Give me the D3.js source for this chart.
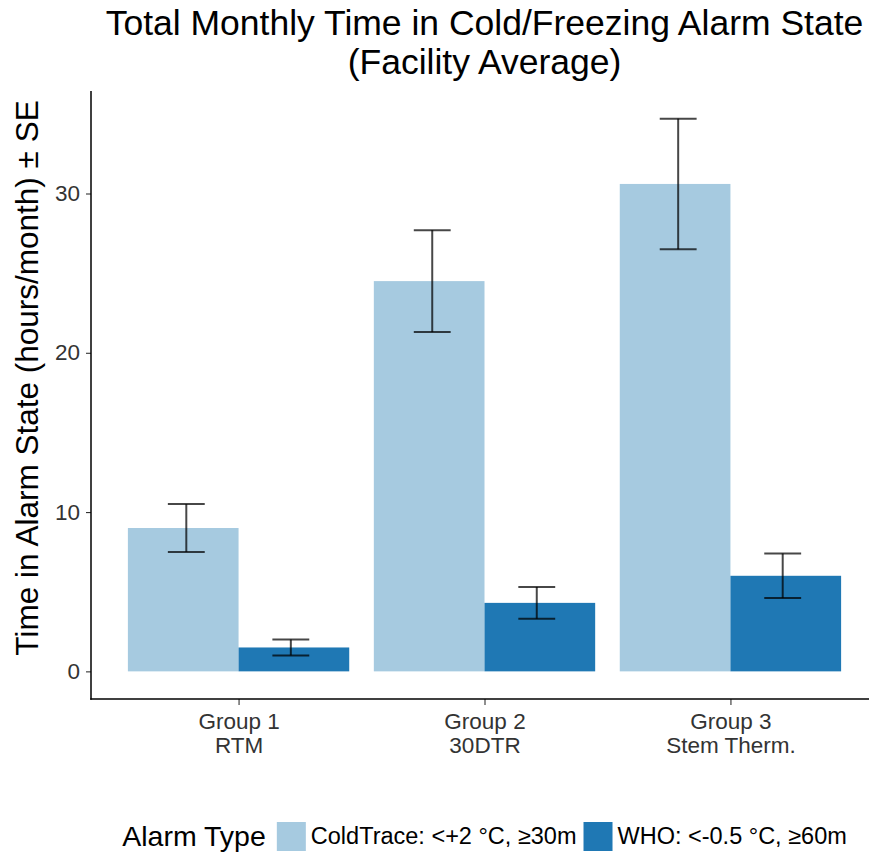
<!DOCTYPE html>
<html>
<head>
<meta charset="utf-8">
<script src="https://cdn.jsdelivr.net/npm/d3@7"></script>
<style>
    body { margin: 0; background: white; }
    svg { display: block; font-family: "Liberation Sans", Helvetica, Arial, sans-serif; }
</style>
</head>
<body>
<svg id="chart" width="869" height="856"></svg>
<script>
// categories
const groupNames = ["Group 1", "Group 2", "Group 3"];
const groupSubs = ["RTM", "30DTR", "Stem Therm."];
const alarmTypes = ["ColdTrace: <+2 °C, ≥30m", "WHO: <-0.5 °C, ≥60m"];
// monthly hours in alarm state and standard errors
const coldMean = [9.0, 24.5, 30.6];
const coldSE = [1.5, 3.2, 4.1];
const whoMean = [1.5, 4.3, 6.0];
const whoSE = [0.5, 1.0, 1.4];
const yTicks = [0, 10, 20, 30];

const colors = ["#a6cae0", "#1f78b4"];

let svg = d3.select("#chart");

// long format rows
let rows = [];
groupNames.forEach(function (g, i) {
    rows.push({ group: g, type: alarmTypes[0], mean: coldMean[i], se: coldSE[i] });
    rows.push({ group: g, type: alarmTypes[1], mean: whoMean[i], se: whoSE[i] });
});

let panelLeft = 91, panelRight = 878, panelTop = 91, panelBottom = 699;

let x = d3.scalePoint()
    .domain(groupNames)
    .range([panelLeft, panelRight])
    .padding(0.6);

let step = x.step();

// bars dodge at 0.9, error bars at 0.85
let xBar = d3.scaleBand()
    .domain(alarmTypes)
    .range([-0.45 * step, 0.45 * step]);

let xErr = d3.scaleBand()
    .domain(alarmTypes)
    .range([-0.425 * step, 0.425 * step]);

let maxHi = d3.max(rows, d => d.mean + d.se);
let pad = maxHi * 0.05;
let y = d3.scaleLinear()
    .domain([-pad, maxHi + pad])
    .range([panelBottom, panelTop]);

let color = d3.scaleOrdinal().domain(alarmTypes).range(colors);

// bars
svg.append("g")
    .selectAll("rect")
    .data(rows)
    .join("rect")
    .attr("x", d => x(d.group) + xBar(d.type))
    .attr("width", xBar.bandwidth())
    .attr("y", d => y(d.mean))
    .attr("height", d => y(0) - y(d.mean))
    .attr("fill", d => color(d.type));

// error bars
let capW = 0.15 * step;
let err = svg.append("g")
    .attr("stroke", "#000")
    .attr("stroke-opacity", 0.72)
    .attr("stroke-width", 2)
    .selectAll("g")
    .data(rows)
    .join("g")
    .attr("transform", d => `translate(${x(d.group) + xErr(d.type) + xErr.bandwidth() / 2},0)`);

err.append("line")
    .attr("y1", d => y(d.mean - d.se))
    .attr("y2", d => y(d.mean + d.se));
err.append("line")
    .attr("x1", -capW / 2).attr("x2", capW / 2)
    .attr("y1", d => y(d.mean + d.se)).attr("y2", d => y(d.mean + d.se));
err.append("line")
    .attr("x1", -capW / 2).attr("x2", capW / 2)
    .attr("y1", d => y(d.mean - d.se)).attr("y2", d => y(d.mean - d.se));

// y axis
let yAxis = svg.append("g")
    .attr("transform", `translate(${panelLeft},0)`)
    .call(d3.axisLeft(y).tickValues(yTicks).tickSize(5).tickPadding(6));
yAxis.select(".domain").remove();
yAxis.selectAll(".tick line").attr("stroke", "#333").attr("stroke-width", 1.1);
yAxis.selectAll(".tick text")
    .attr("fill", "#333")
    .attr("font-size", "22.5px");
yAxis.attr("font-family", null).attr("font-size", null);

// x axis
let xAxis = svg.append("g")
    .attr("transform", `translate(0,${panelBottom})`)
    .call(d3.axisBottom(x).tickSize(6).tickFormat(""));
xAxis.attr("font-family", null).attr("font-size", null);
xAxis.select(".domain").remove();
xAxis.selectAll(".tick line").attr("stroke", "#333").attr("stroke-width", 1.1);
xAxis.selectAll(".tick text").remove();
xAxis.selectAll(".tick")
    .append("text")
    .attr("fill", "#333")
    .attr("font-size", "22.5px")
    .attr("text-anchor", "middle")
    .each(function (d, i) {
        let t = d3.select(this);
        t.append("tspan").attr("x", 0).attr("y", 30).text(groupNames[i]);
        t.append("tspan").attr("x", 0).attr("y", 54).text(groupSubs[i]);
    });

// axis lines
svg.append("line")
    .attr("x1", panelLeft).attr("x2", panelLeft)
    .attr("y1", panelTop).attr("y2", panelBottom + 0.75)
    .attr("stroke", "#000").attr("stroke-width", 1.5);
svg.append("line")
    .attr("x1", panelLeft - 0.75).attr("x2", panelRight)
    .attr("y1", panelBottom).attr("y2", panelBottom)
    .attr("stroke", "#000").attr("stroke-width", 1.5);

// title
let cx = (panelLeft + panelRight) / 2;
svg.append("text")
    .attr("x", cx).attr("y", 35)
    .attr("text-anchor", "middle")
    .attr("font-size", "35.5px")
    .attr("fill", "#000")
    .text("Total Monthly Time in Cold/Freezing Alarm State");
svg.append("text")
    .attr("x", cx).attr("y", 74)
    .attr("text-anchor", "middle")
    .attr("font-size", "35.5px")
    .attr("fill", "#000")
    .text("(Facility Average)");

// y title
svg.append("text")
    .attr("transform", "translate(38,378) rotate(-90)")
    .attr("text-anchor", "middle")
    .attr("font-size", "31.5px")
    .attr("fill", "#000")
    .text("Time in Alarm State (hours/month) ± SE");

// legend, laid out left to right and centred under the panel
let legend = svg.append("g");
let pieces = [];
let lt = legend.append("text")
    .attr("y", 846)
    .attr("font-size", "28.5px")
    .attr("fill", "#000")
    .text("Alarm Type");
pieces.push({ node: lt, w: lt.node().getComputedTextLength(), gap: 11 });
alarmTypes.forEach(function (a, i) {
    let r = legend.append("rect")
        .attr("y", 822)
        .attr("width", 29).attr("height", 29)
        .attr("fill", color(a));
    pieces.push({ node: r, w: 29, gap: 5 });
    let t = legend.append("text")
        .attr("y", 844)
        .attr("font-size", "23.5px")
        .attr("fill", "#000")
        .text(a);
    pieces.push({ node: t, w: t.node().getComputedTextLength(), gap: 7 });
});
let total = d3.sum(pieces, p => p.w) + d3.sum(pieces.slice(0, -1), p => p.gap);
let px = cx - total / 2;
pieces.forEach(function (p) {
    p.node.attr("x", px);
    px += p.w + p.gap;
});
</script>
</body>
</html>
